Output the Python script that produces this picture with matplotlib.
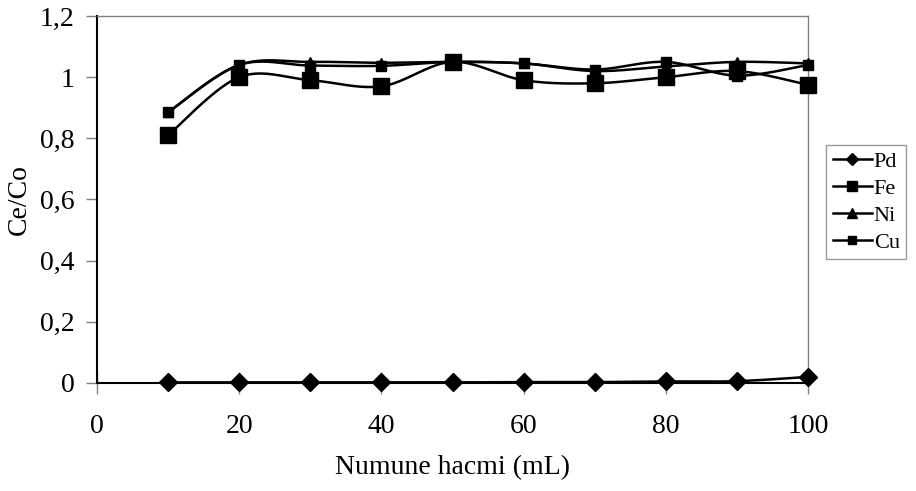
import numpy as np
import matplotlib
matplotlib.use("Agg")
import matplotlib.pyplot as plt
from matplotlib.lines import Line2D

volume = [10, 20, 30, 40, 50, 60, 70, 80, 90, 100]
pd_vals = [0.002, 0.002, 0.002, 0.002, 0.002, 0.003, 0.003, 0.005, 0.006, 0.02]
fe_vals = [0.81, 1.0, 0.99, 0.97, 1.05, 0.99, 0.98, 1.0, 1.02, 0.975]
ni_vals = [0.885, 1.04, 1.05, 1.047, 1.05, 1.045, 1.02, 1.035, 1.05, 1.045]
cu_vals = [0.885, 1.04, 1.038, 1.037, 1.05, 1.045, 1.025, 1.05, 1.005, 1.04]
x_ticks = [0, 20, 40, 60, 80, 100]
y_ticks = [0, 0.2, 0.4, 0.6, 0.8, 1.0, 1.2]
y_labels = ["0", "0,2", "0,4", "0,6", "0,8", "1", "1,2"]

plt.rcParams['font.family'] = ['Liberation Serif', 'DejaVu Serif']


def smooth(x, y, n=24):
    # excel style smoothed line: bezier segments with catmull-rom tangents
    x = np.asarray(x, float)
    y = np.asarray(y, float)
    px, py = [], []
    for i in range(len(x) - 1):
        x0, y0 = (x[i - 1], y[i - 1]) if i > 0 else (x[i], y[i])
        x3, y3 = (x[i + 2], y[i + 2]) if i + 2 < len(x) else (x[i + 1], y[i + 1])
        c1x = x[i] + (x[i + 1] - x0) / 6
        c1y = y[i] + (y[i + 1] - y0) / 6
        c2x = x[i + 1] - (x3 - x[i]) / 6
        c2y = y[i + 1] - (y3 - y[i]) / 6
        t = np.linspace(0, 1, n)
        a, b, c, d = (1 - t) ** 3, 3 * (1 - t) ** 2 * t, 3 * (1 - t) * t ** 2, t ** 3
        px.extend(a * x[i] + b * c1x + c * c2x + d * x[i + 1])
        py.extend(a * y[i] + b * c1y + c * c2y + d * y[i + 1])
    return px, py


fig = plt.figure(figsize=(9.16, 4.91), dpi=100)
ax = fig.add_axes([97 / 916, 1 - 383 / 491, (808 - 97) / 916, (383 - 16) / 491])

# name, values, marker, size on plot, size in legend
series = [
    ("Pd", pd_vals, "D", 9.5, 6),
    ("Fe", fe_vals, "s", 11.5, 6.5),
    ("Ni", ni_vals, "^", 7.5, 7),
    ("Cu", cu_vals, "s", 6.5, 6),
]
handles = []
for name, vals, mk, ms, lms in series:
    sx, sy = smooth(volume, vals)
    ax.plot(sx, sy, color="black", lw=1.8, zorder=2, clip_on=False)
    ax.plot(volume, vals, ls="none", marker=mk, ms=ms, color="black", zorder=3, clip_on=False)
    handles.append(Line2D([], [], color="black", lw=1.8, marker=mk, ms=lms))

ax.set_xlim(0, 100)
ax.set_ylim(0, 1.2)
ax.set_xticks(x_ticks)
ax.set_yticks(y_ticks)
ax.set_yticklabels(y_labels)
ax.tick_params(axis="both", labelsize=20, color="#808080", length=8, width=1)
ax.tick_params(axis="x", direction="inout", length=16, pad=14)
ax.tick_params(axis="y", direction="out", pad=8)

for side in ["top", "right"]:
    ax.spines[side].set_color("#808080")
    ax.spines[side].set_linewidth(1)
ax.spines["left"].set_color("black")
ax.spines["bottom"].set_color("black")
ax.spines["left"].set_linewidth(1.5)
ax.spines["bottom"].set_linewidth(1.5)

ax.set_xlabel("Numune hacmi (mL)", fontsize=20, labelpad=12)
ax.set_ylabel("Ce/Co", fontsize=20, labelpad=6)

leg = fig.legend(handles, [s[0] for s in series], loc="upper left",
                 bbox_to_anchor=(826 / 916, 1 - 145 / 491), fontsize=16,
                 frameon=True, fancybox=False, edgecolor="#808080",
                 handlelength=1.75, handletextpad=0.1, labelspacing=0.28,
                 borderpad=0.3, borderaxespad=0)
leg.get_frame().set_linewidth(1)

fig.savefig("out.png", dpi=100)
